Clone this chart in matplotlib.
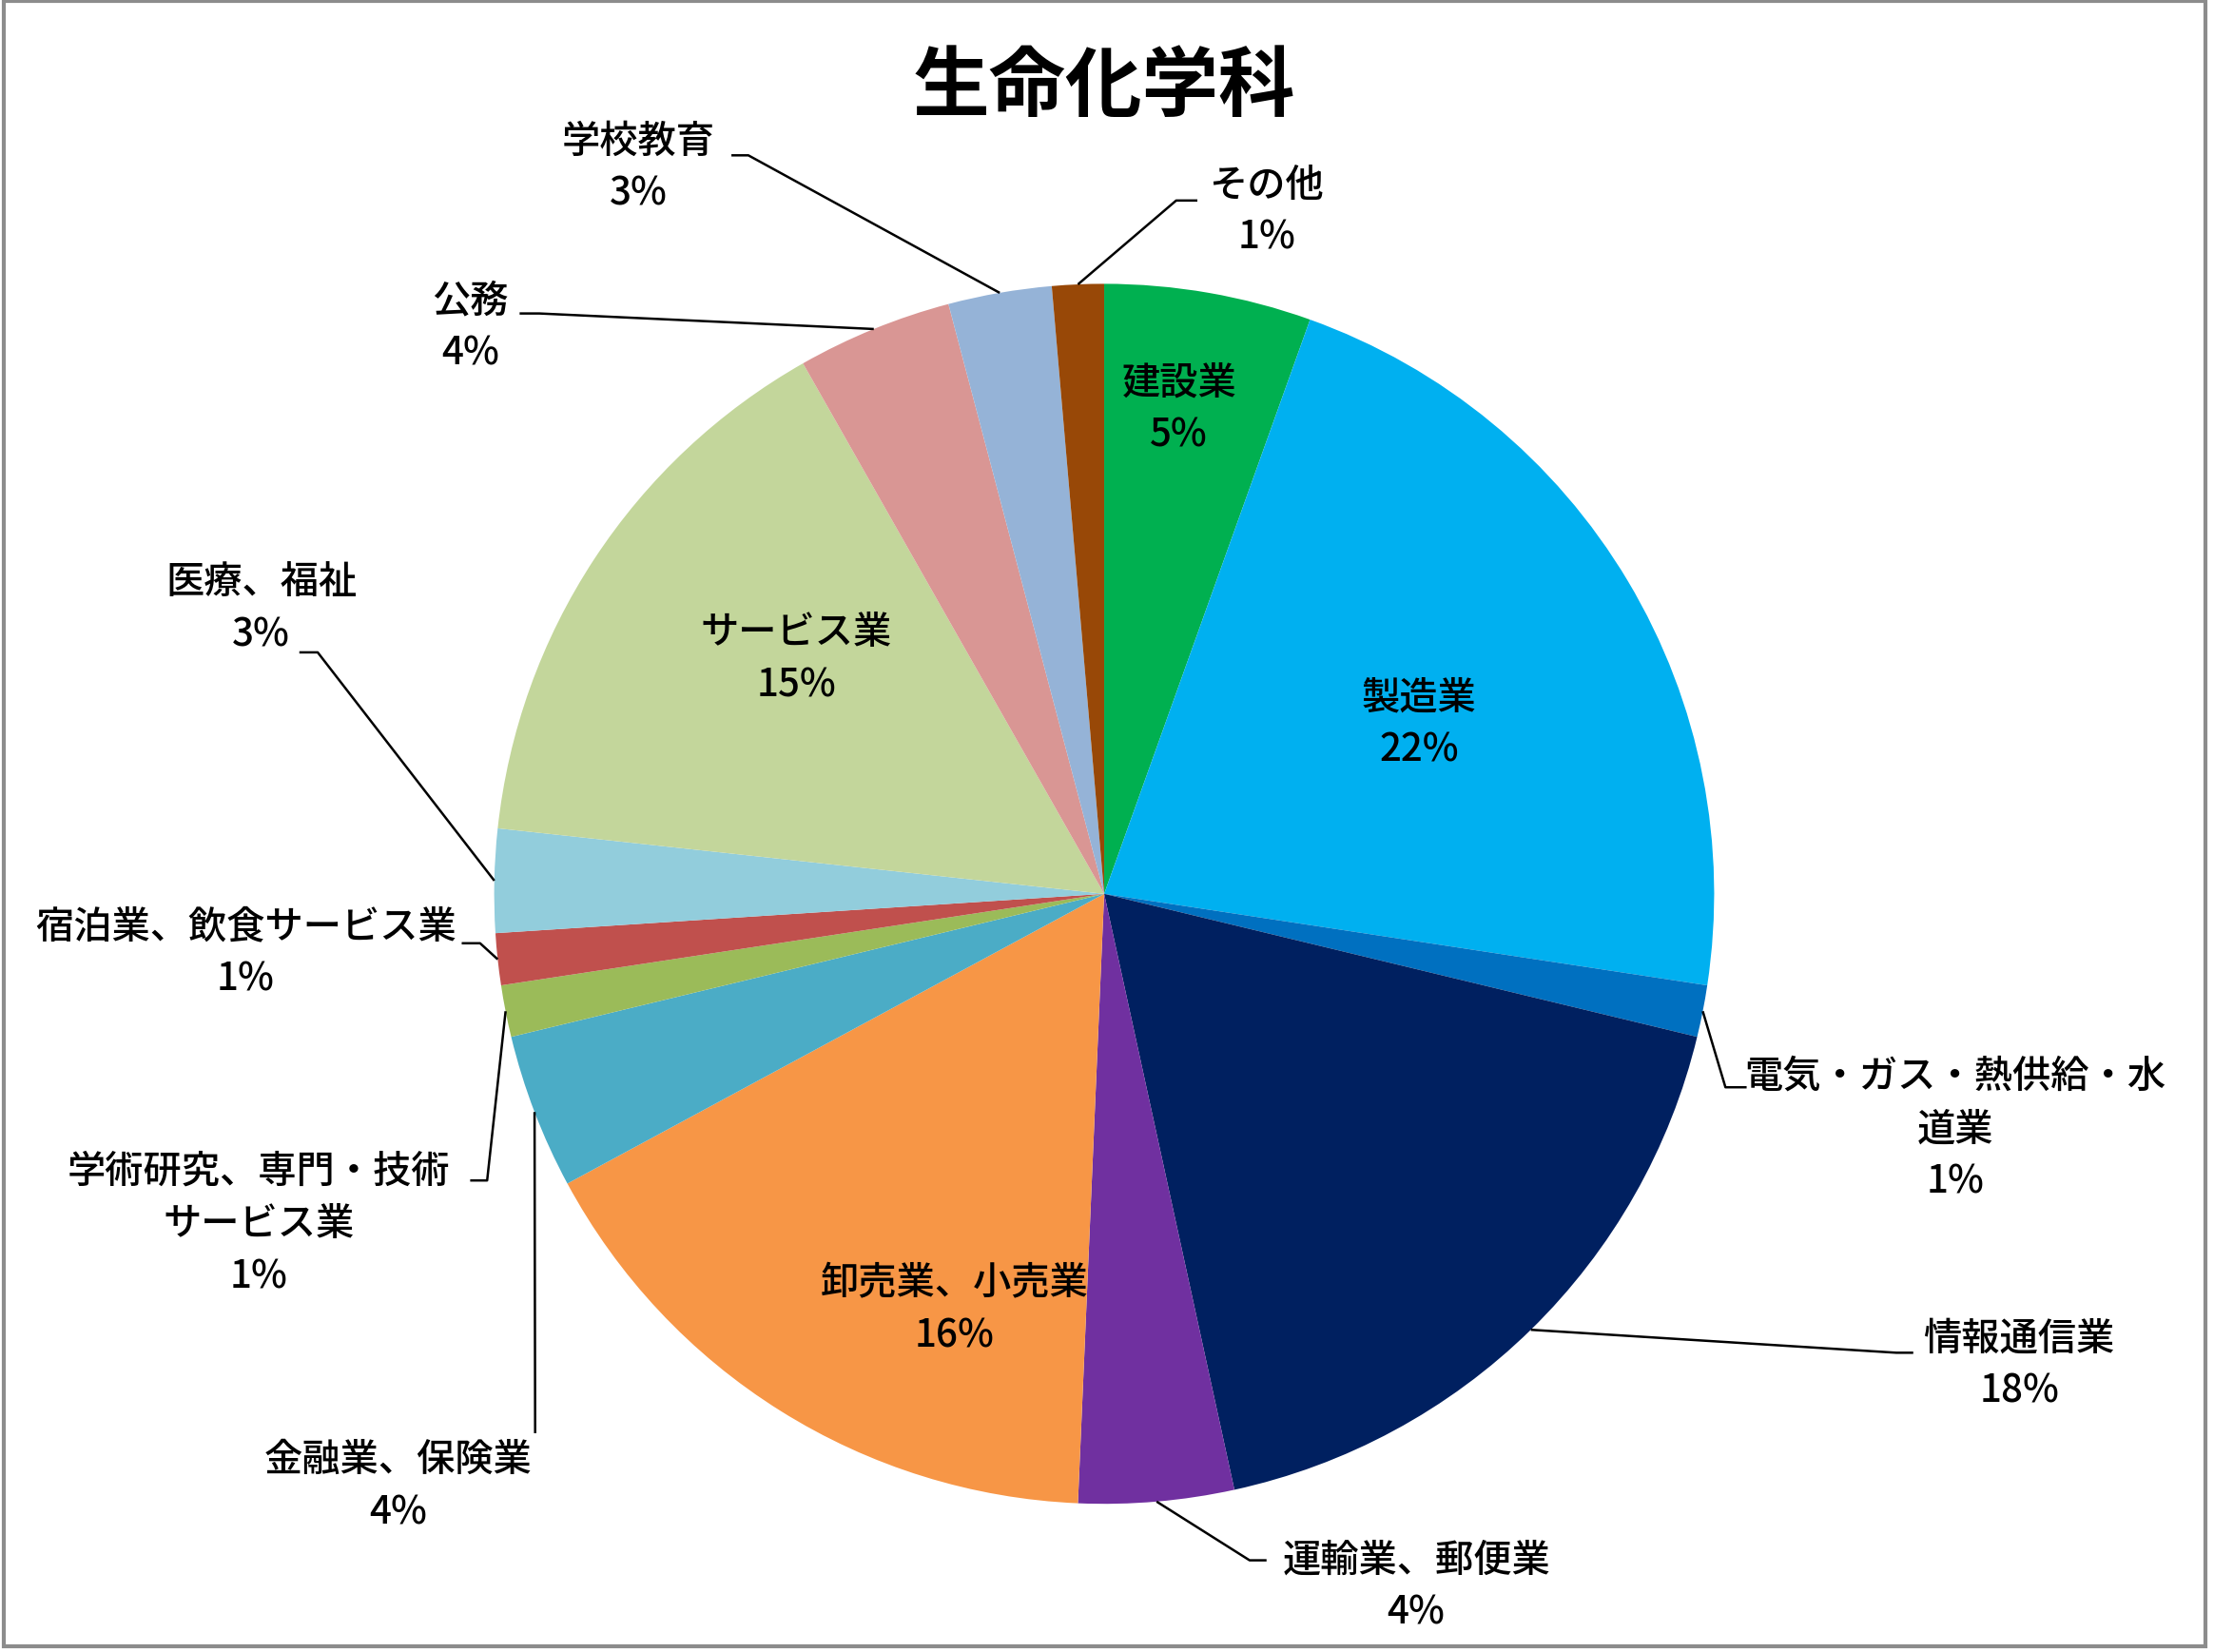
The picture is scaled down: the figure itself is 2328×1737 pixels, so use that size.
import numpy as np
import matplotlib.pyplot as plt
from matplotlib.patches import Rectangle

plt.rcParams['font.family'] = ['Noto Sans CJK JP', 'DejaVu Sans']

# counts per industry (clockwise from 12 o'clock)
labels = ['建設業', '製造業', '電気・ガス・熱供給・水\n道業', '情報通信業', '運輸業、郵便業',
          '卸売業、小売業', '金融業、保険業', '学術研究、専門・技術\nサービス業', '宿泊業、飲食サービス業',
          '医療、福祉', 'サービス業', '公務', '学校教育', 'その他']
counts = [4, 16, 1, 13, 3, 12, 3, 1, 1, 2, 11, 3, 2, 1]
colors = ['#00B050', '#00B0F0', '#0070C0', '#002060', '#7030A0',
          '#F79646', '#4BACC6', '#9BBB59', '#C0504D',
          '#92CDDC', '#C3D69B', '#D99694', '#95B3D7', '#984807']

W, H = 2328, 1737
S = 2328 / 1568


def px(x, y):
    # reference-view coordinates -> data coordinates
    return x * S, H - y * S


fig = plt.figure(figsize=(W / 100, H / 100), dpi=100)
ax = fig.add_axes([0, 0, 1, 1])

cx, cy = px(782, 633)
R = 432 * S
wedges, _ = ax.pie(counts, colors=colors, startangle=90, counterclock=False,
                   center=(cx, cy), radius=R, frame=True)
ax.set_xlim(0, W)
ax.set_ylim(0, H)
ax.set_aspect('equal')
ax.axis('off')

total = sum(counts)
pcts = [f'{round(100 * c / total)}%' for c in counts]

fs = 29
# inside labels: index -> text centre
inside = {0: (835, 290), 1: (1005, 513), 5: (676, 928), 10: (564, 467)}
for i, (x, y) in inside.items():
    ax.text(*px(x, y), f'{labels[i]}\n{pcts[i]}', ha='center', va='center',
            fontsize=fs, fontweight='medium', linespacing=1.45)

# outside labels: index -> (text centre, elbow point, end of horizontal tick)
outside = {
    13: ((897, 150), (833, 142), (848, 142)),
    12: ((452, 119), (530, 110), (518, 110)),
    11: ((333, 232), (382, 222), (368, 222)),
    9: ((185, 431), (225, 462), (212, 462)),
    8: ((174, 675), (340, 668), (327, 668)),
    7: ((183, 867), (345, 836), (333, 836)),
    6: ((282, 1053), (379, 1015), (379, 1015)),
    4: ((1003, 1124), (885, 1105), (897, 1105)),
    3: ((1430, 967), (1343, 958), (1355, 958)),
    2: ((1385, 800), (1222, 770), (1237, 770)),
}
for i, (tpos, elbow, tick) in outside.items():
    w = wedges[i]
    mid = np.deg2rad((w.theta1 + w.theta2) / 2)
    sx, sy = cx + R * np.cos(mid), cy + R * np.sin(mid)
    ex, ey = px(*elbow)
    tx, ty = px(*tick)
    ax.plot([sx, ex, tx], [sy, ey, ty], color='black', lw=1.8, solid_capstyle='butt')
    ax.text(*px(*tpos), f'{labels[i]}\n{pcts[i]}', ha='center', va='center',
            fontsize=fs, fontweight='medium', linespacing=1.45)

ax.text(*px(782, 62), '生命化学科', ha='center', va='center',
        fontsize=58, fontweight='bold')

# chart border
ax.add_patch(Rectangle((4, 6), 2315, 1730, fill=False, edgecolor='#8C8C8C', lw=3))

fig.savefig('out.png', dpi=100)
